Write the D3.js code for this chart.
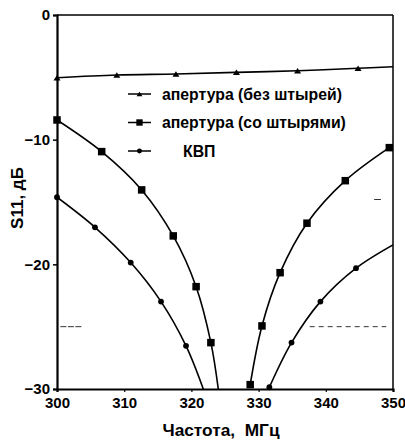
<!DOCTYPE html>
<html>
<head>
<meta charset="utf-8">
<script src="https://cdn.jsdelivr.net/npm/d3@7"></script>
<style>
  html, body { margin: 0; padding: 0; background: #fff; }
  svg { display: block; }
  text { font-family: "Liberation Sans", Arial, sans-serif; font-weight: bold; fill: #000; }
</style>
</head>
<body>
<svg id="chart" width="405" height="443"></svg>
<script>
// Frequency axis (MHz) and S11 axis (dB)
const xTicks = [300, 310, 320, 330, 340, 350];
const yTicks = [0, -10, -20, -30];

// Aperture without pins (triangles)
const triFreq = [300, 308.9, 317.7, 326.7, 335.8, 344.8, 350];
const triS11  = [-5.03, -4.81, -4.73, -4.60, -4.47, -4.27, -4.15];
const triMark = [1, 1, 1, 1, 1, 1, 0];

// Aperture with pins (squares), lower and upper branch
const sqLowFreq = [300, 306.65, 312.6, 317.3, 320.7, 322.9, 324.0];
const sqLowS11  = [-8.42, -10.96, -14.03, -17.72, -21.79, -26.28, -30];
const sqLowMark = [1, 1, 1, 1, 1, 1, 0];
const sqHighFreq = [328.75, 330.5, 333.2, 337.2, 342.9, 349.45];
const sqHighS11  = [-29.65, -24.94, -20.67, -16.70, -13.29, -10.64];
const sqHighMark = [1, 1, 1, 1, 1, 1];

// Waveguide (circles), lower and upper branch
const kvpLowFreq = [300, 305.65, 310.97, 315.48, 319.2, 321.77];
const kvpLowS11  = [-14.62, -17.03, -19.86, -22.99, -26.54, -30];
const kvpLowMark = [1, 1, 1, 1, 1, 0];
const kvpHighFreq = [331.6, 334.9, 339.2, 344.5, 350];
const kvpHighS11  = [-29.86, -26.28, -22.99, -20.31, -18.44];
const kvpHighMark = [1, 1, 1, 1, 0];

// Faint reference-line fragments
const refY    = [-25, -25, -14.8];
const refFrom = [300.5, 337.6, 347.2];
const refTo   = [303.7, 349.0, 348.2];
const refDash = ["6,1.5", "5,4", ""];

const legendLabels = ["апертура (без штырей)", "апертура (со штырями)", "КВП"];
const legendSymbols = ["triangle", "square", "circle"];

const svg = d3.select("#chart");
const margin = { left: 57, top: 15, right: 12, bottom: 54 };
const W = 405, H = 443;

const x = d3.scaleLinear().domain([300, 350]).range([margin.left, W - margin.right]);
const y = d3.scaleLinear().domain([-30, 0]).range([H - margin.bottom, margin.top]);

svg.append("defs").append("clipPath").attr("id", "plotClip")
  .append("rect")
  .attr("x", x(300)).attr("y", y(0))
  .attr("width", x(350) - x(300)).attr("height", y(-30) - y(0));

// Reference fragments
refY.forEach((v, i) => {
  svg.append("line")
    .attr("x1", x(refFrom[i])).attr("x2", x(refTo[i]))
    .attr("y1", y(v)).attr("y2", y(v))
    .attr("stroke", "#333").attr("stroke-width", 1)
    .attr("stroke-dasharray", refDash[i] || null);
});

// Curves
const line = d3.line()
  .x(d => x(d.f)).y(d => y(d.v))
  .curve(d3.curveCatmullRom.alpha(0.5));

function zipSeries(f, v, m) {
  return f.map((fi, i) => ({ f: fi, v: v[i], m: m[i] }));
}

const series = [
  { sym: "triangle", data: zipSeries(triFreq, triS11, triMark) },
  { sym: "square", data: zipSeries(sqLowFreq, sqLowS11, sqLowMark) },
  { sym: "square", data: zipSeries(sqHighFreq, sqHighS11, sqHighMark) },
  { sym: "circle", data: zipSeries(kvpLowFreq, kvpLowS11, kvpLowMark) },
  { sym: "circle", data: zipSeries(kvpHighFreq, kvpHighS11, kvpHighMark) }
];

const plot = svg.append("g").attr("clip-path", "url(#plotClip)");
series.forEach(s => {
  plot.append("path")
    .attr("d", line(s.data))
    .attr("fill", "none")
    .attr("stroke", "#000")
    .attr("stroke-width", 1.6);
});

function drawSymbol(g, sym, cx, cy, scale) {
  const k = scale || 1;
  if (sym === "square") {
    const s = 7.5 * k;
    g.append("rect").attr("x", cx - s / 2).attr("y", cy - s / 2)
      .attr("width", s).attr("height", s).attr("fill", "#000");
  } else if (sym === "circle") {
    g.append("circle").attr("cx", cx).attr("cy", cy).attr("r", 2.9 * k).attr("fill", "#000");
  } else {
    const w = 7 * k, h = 5.5 * k;
    g.append("path")
      .attr("d", `M${cx - w / 2},${cy + h / 2}L${cx},${cy - h / 2}L${cx + w / 2},${cy + h / 2}Z`)
      .attr("fill", "#000");
  }
}

const marks = svg.append("g");
series.forEach(s => {
  s.data.forEach(d => { if (d.m) drawSymbol(marks, s.sym, x(d.f), y(d.v)); });
});

// Frame: thin top/right, heavier left/bottom
svg.append("line").attr("x1", x(300)).attr("x2", x(350)).attr("y1", y(0)).attr("y2", y(0))
  .attr("stroke", "#000").attr("stroke-width", 1.5);
svg.append("line").attr("x1", x(350)).attr("x2", x(350)).attr("y1", y(0)).attr("y2", y(-30))
  .attr("stroke", "#000").attr("stroke-width", 1.5);

const yAxis = d3.axisLeft(y).tickValues(yTicks).tickSize(4).tickPadding(3).tickFormat(d3.format("d"));
const gy = svg.append("g").attr("transform", `translate(${x(300)},0)`).call(yAxis);
gy.select(".domain").attr("stroke-width", 2.2);
gy.selectAll(".tick line").attr("stroke-width", 1.5);
gy.selectAll(".tick text").style("font-size", "15px").style("font-family", "Liberation Sans, Arial, sans-serif")
  .style("font-weight", "bold").attr("fill", "#000");

const xAxis = d3.axisBottom(x).tickValues(xTicks).tickSize(3).tickPadding(5).tickFormat(d3.format("d"));
const gx = svg.append("g").attr("transform", `translate(0,${y(-30)})`).call(xAxis);
gx.select(".domain").attr("stroke-width", 2.2);
gx.selectAll(".tick line").attr("stroke-width", 1.2);
gx.selectAll(".tick text").style("font-size", "15px").style("font-family", "Liberation Sans, Arial, sans-serif")
  .style("font-weight", "bold").attr("fill", "#000");

// Axis titles
svg.append("text")
  .attr("x", 221).attr("y", 436)
  .attr("text-anchor", "middle")
  .style("font-size", "17.3px")
  .attr("xml:space", "preserve")
  .text("Частота,  МГц");

svg.append("text")
  .attr("transform", "translate(23,198) rotate(-90)")
  .attr("text-anchor", "middle")
  .style("font-size", "17px")
  .text("S11, дБ");

// Legend
const legY = [94, 122.5, 151];
const legTextX = [162, 162, 183];
legendLabels.forEach((lab, i) => {
  const g = svg.append("g");
  g.append("line").attr("x1", 128).attr("x2", 151).attr("y1", legY[i]).attr("y2", legY[i])
    .attr("stroke", "#000").attr("stroke-width", 1.5);
  drawSymbol(g, legendSymbols[i], 139.5, legY[i], 0.85);
  g.append("text").attr("x", legTextX[i]).attr("y", legY[i] + 5.5)
    .style("font-size", "15.8px")
    .text(lab);
});
</script>
</body>
</html>
